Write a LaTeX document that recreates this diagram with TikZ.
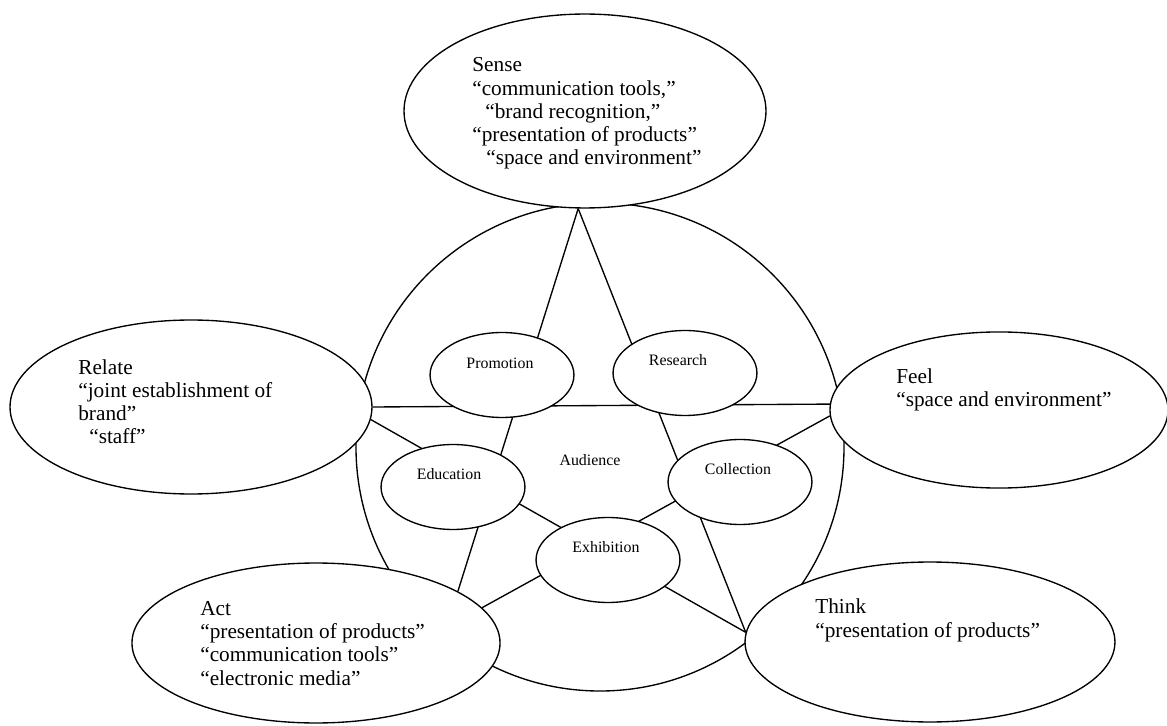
\documentclass[tikz,border=0pt]{standalone}
\usepackage{fontspec}
\setmainfont{Liberation Serif}
\usepackage{tikz}
\usetikzlibrary{shapes.geometric}
\usetikzlibrary{backgrounds}

\tikzset{
  bigoval/.style 2 args={draw, ellipse, fill=white, line width=0.8pt,
    minimum width=#1, minimum height=#2, inner sep=0pt},
  smalloval/.style={draw, ellipse, fill=white, line width=0.8pt,
    minimum width=85.2pt, minimum height=50.3pt, inner sep=0pt},
  bigtext/.style={align=left, inner sep=0pt, anchor=base west,
    font=\fontsize{12.6}{13.8}\selectfont},
  smalltext/.style={inner sep=0pt, anchor=base, font=\fontsize{9.4}{11}\selectfont},
  starline/.style={line width=0.8pt},
}

\begin{document}
\begin{tikzpicture}[x=0.592pt, y=-0.592pt]
    \useasboundingbox (0,0) rectangle (1167,726);
    % the audience circle
    \node[draw, circle, line width=0.8pt, minimum size=288.9pt, inner sep=0pt] (audience) at (600,447) {};
    \node[smalltext] (audienceText) at (590,466) {Audience};
    % the five experiences
    \node[bigoval={214.3pt}{114.8pt}] (sense) at (585,111) {};
    \node[bigoval={214.3pt}{103pt}] (relate) at (191,407) {};
    \node[bigoval={200.1pt}{92.4pt}] (feel) at (999,410) {};
    \node[bigoval={217.9pt}{94.7pt}] (act) at (316,643) {};
    \node[bigoval={219pt}{94.7pt}] (think) at (930,642) {};
    % texts sit on the baseline of their last line
    \node[bigtext] (senseText) at (472,165) {Sense\\
      “communication tools,”\\
      \hspace*{7.7pt}“brand recognition,”\\
      “presentation of products”\\
      \hspace*{8.3pt}“space and environment”};
    \node[bigtext] (relateText) at (78,444) {Relate\\
      “joint establishment of\\
      brand”\\
      \hspace*{6.5pt}“staff”};
    \node[bigtext] (feelText) at (896,407) {Feel\\
      “space and environment”};
    \node[bigtext] (actText) at (200,685) {Act\\
      “presentation of products”\\
      “communication tools”\\
      “electronic media”};
    \node[bigtext] (thinkText) at (815,637) {Think\\
      “presentation of products”};
    % the five functions
    \node[smalloval] (promotion) at (502,375) {};
    \node[smalloval] (research) at (685,373) {};
    \node[smalloval] (education) at (453,487) {};
    \node[smalloval] (collection) at (740,482) {};
    \node[smalloval] (exhibition) at (608,560) {};
    \node[smalltext] (promotionText) at (500,369) {Promotion};
    \node[smalltext] (researchText) at (678,366) {Research};
    \node[smalltext] (educationText) at (449,480) {Education};
    \node[smalltext] (collectionText) at (738,475) {Collection};
    \node[smalltext] (exhibitionText) at (606,552) {Exhibition};
    % the star, behind the ovals
    \begin{pgfonlayer}{background}
      \draw[starline] (sense.266) -- (act.20);
      \draw[starline] (sense.266) -- (think.177);
      \draw[starline] (relate.0) -- (feel.178);
      \draw[starline] (relate.-4) -- (think.177);
      \draw[starline] (feel.182) -- (act.12);
    \end{pgfonlayer}
\end{tikzpicture}
\end{document}
